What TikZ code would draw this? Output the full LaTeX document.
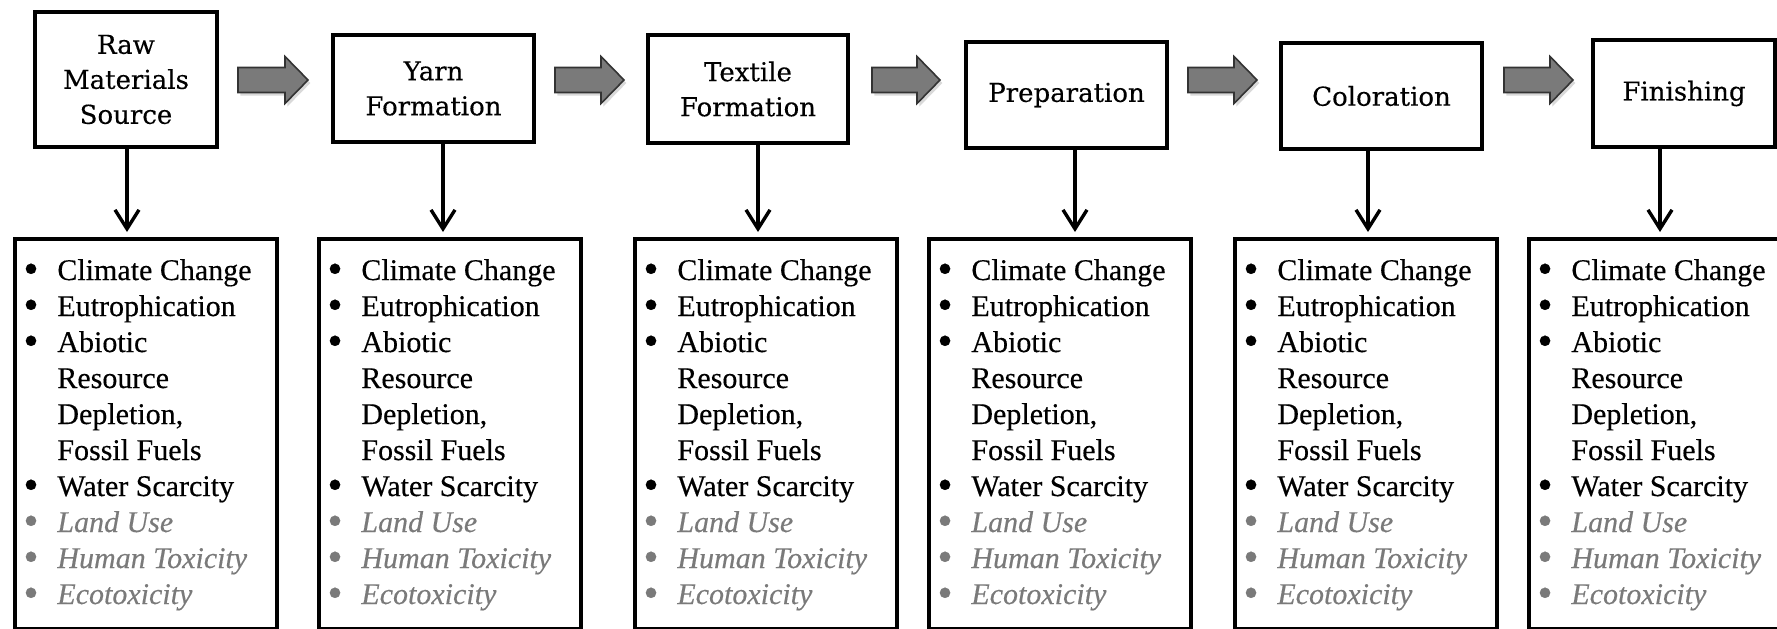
\documentclass[tikz,border=0pt]{standalone}
\usepackage{fontspec}
\setmainfont{Liberation Serif}
\newfontfamily\listfont[FakeBold=0.35]{Liberation Serif}
\newfontfamily\topfont[FakeBold=0.3]{DejaVu Serif}
\usetikzlibrary{arrows.meta,shadows}
\definecolor{itemgray}{HTML}{7A7A7A}
\definecolor{arrowfill}{HTML}{7A7A7A}
\definecolor{arrowline}{HTML}{333333}
\newcommand{\bigbullet}{\smash{\raisebox{-1.6pt}{\scalebox{1.45}{\textbullet}}}}
\newcommand{\bitem}[1]{\makebox[17pt][l]{\bigbullet}#1}
\newcommand{\citem}[1]{\hspace*{17pt}#1}
\newcommand{\gitem}[1]{{\color{itemgray}\makebox[17pt][l]{\bigbullet}\textit{#1}}}
\newcommand{\impactlist}{\parbox[t]{124pt}{\raggedright\listfont\fontsize{15pt}{18pt}\selectfont
\bitem{Climate Change}\\
\bitem{Eutrophication}\\
\bitem{Abiotic}\\
\citem{Resource}\\
\citem{Depletion,}\\
\citem{Fossil Fuels}\\
\bitem{Water Scarcity}\\
\gitem{Land Use}\\
\gitem{Human Toxicity}\\
\gitem{Ecotoxicity}}}
\begin{document}
\begin{tikzpicture}[x=0.5pt,y=-0.5pt,
  topbox/.style={draw, line width=2pt, fill=white, align=center, inner sep=0pt,
    font=\topfont\fontsize{13pt}{17.5pt}\selectfont},
  listbox/.style={draw, line width=2pt, anchor=north west, minimum width=131pt,
    minimum height=195pt, inner sep=0pt},
  listtext/.style={anchor=base west, inner sep=0pt},
  downarrow/.style={line width=1.7pt, line cap=butt,
    -{Straight Barb[length=9.5pt,width=12pt,line width=1.7pt]}, shorten >=2.5pt},
  blockarrow/.style={fill=arrowfill, draw=arrowline, line width=0.8pt, line join=miter,
    drop shadow={shadow xshift=1.2pt, shadow yshift=-1.5pt, opacity=0.3}}
]
\useasboundingbox (0,0) rectangle (1777,628);
\clip (0,0) rectangle (1777,628);

% top process boxes
\node[topbox, minimum width=91pt,   minimum height=67.5pt] (top1) at (126,79.5) {Raw\\Materials\\Source};
\node[topbox, minimum width=100.5pt, minimum height=53.5pt] (top2) at (433.5,88.5) {Yarn\\Formation};
\node[topbox, minimum width=100pt,  minimum height=54pt]   (top3) at (748,89) {Textile\\Formation};
\node[topbox, minimum width=100.5pt, minimum height=53pt]   (top4) at (1066.5,95) {Preparation};
\node[topbox, minimum width=100.5pt, minimum height=53pt]   (top5) at (1381.5,96) {Coloration};
\node[topbox, minimum width=91pt,   minimum height=53.5pt] (top6) at (1684,93.5) {Finishing};

% gray block arrows
\foreach \s/\t in {238/308, 555/624, 872/940, 1188/1257, 1504/1573}{
  \path[blockarrow] (\s,67.5) -- (\t-23,67.5) -- (\t-23,56.5) -- (\t,80)
     -- (\t-23,103.5) -- (\t-23,92.5) -- (\s,92.5) -- cycle;
}

% impact list boxes
\foreach \i/\l in {1/13, 2/317, 3/633, 4/927, 5/1233, 6/1527}{
  \node[listbox] (list\i) at (\l,237) {};
  \node[listtext] (text\i) at (\l+10,280) {\impactlist};
}

% down arrows
\foreach \i/\x in {1/127, 2/443, 3/758, 4/1075, 5/1368, 6/1660}{
  \coordinate (d\i) at (\x,0);
  \draw[downarrow] (top\i.south -| d\i) -- (list\i.north -| d\i);
}
\end{tikzpicture}
\end{document}
